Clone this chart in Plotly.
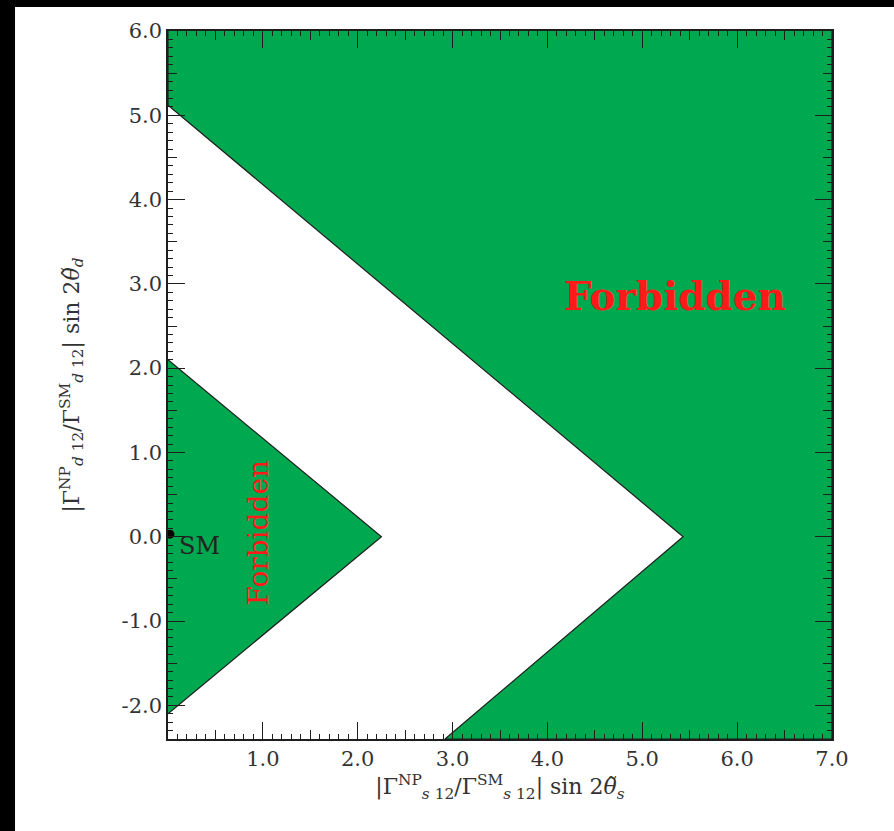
import plotly.graph_objects as go

# ---- data ----
x_range = [0.0, 7.0]
y_range = [-2.4, 6.0]

# outer forbidden region (right of the outer chevron)
outer_x = [0.0, 0.0, 5.43, 2.92, 7.0, 7.0]
outer_y = [6.0, 5.12, 0.0, -2.4, -2.4, 6.0]

# inner forbidden triangle
inner_x = [0.0, 2.25, 0.0]
inner_y = [2.10, 0.0, -2.10]

# Standard Model point
sm_x = [0.02]
sm_y = [0.03]

x_major = [1.0, 2.0, 3.0, 4.0, 5.0, 6.0, 7.0]
x_major_text = ["1.0", "2.0", "3.0", "4.0", "5.0", "6.0", "7.0"]
y_major = [-2.0, -1.0, 0.0, 1.0, 2.0, 3.0, 4.0, 5.0, 6.0]
y_major_text = ["-2.0", "-1.0", "0.0", "1.0", "2.0", "3.0", "4.0", "5.0", "6.0"]
x_half = [0.5, 1.5, 2.5, 3.5, 4.5, 5.5, 6.5]
y_half = [-1.5, -0.5, 0.5, 1.5, 2.5, 3.5, 4.5, 5.5]

GREEN = "#00A850"
EDGE = "#1e1e1e"
TXT = "#333333"
FONT = "DejaVu Serif"

fig = go.Figure()

fig.add_trace(go.Scatter(x=outer_x, y=outer_y, fill="toself", fillcolor=GREEN,
                         mode="lines", line=dict(color=EDGE, width=1.2),
                         hoverinfo="skip", showlegend=False))
fig.add_trace(go.Scatter(x=inner_x, y=inner_y, fill="toself", fillcolor=GREEN,
                         mode="lines", line=dict(color=EDGE, width=1.2),
                         hoverinfo="skip", showlegend=False))
fig.add_trace(go.Scatter(x=sm_x, y=sm_y, mode="markers",
                         marker=dict(color="black", size=9),
                         cliponaxis=True, hoverinfo="skip", showlegend=False))
# carrier trace for the half-unit tick axes
fig.add_trace(go.Scatter(x=[None], y=[None], xaxis="x2", yaxis="y2",
                         mode="markers", showlegend=False, hoverinfo="skip"))

axis_common = dict(showgrid=False, zeroline=False, showline=True,
                   linecolor=EDGE, linewidth=1.5, mirror="ticks",
                   ticks="inside", tickcolor=EDGE, tickwidth=1.4, ticklen=17,
                   layer="above traces",
                   tickfont=dict(family=FONT, size=21, color=TXT))

fig.update_layout(
    width=894, height=831,
    margin=dict(l=168, r=62, t=31, b=92),
    paper_bgcolor="white", plot_bgcolor="white",
    xaxis=dict(range=x_range, tickmode="array", tickvals=x_major,
               ticktext=x_major_text,
               minor=dict(dtick=0.1, tick0=0, ticks="inside", ticklen=5,
                          tickcolor=EDGE, tickwidth=1.1),
               title=dict(text="|Γ<sup>NP</sup><sub><i>s</i> 12</sub>/Γ<sup>SM</sup><sub><i>s</i> 12</sub>| sin 2<i>θ̃</i><sub><i>s</i></sub>",
                          font=dict(family=FONT, size=22, color=TXT), standoff=2),
               **axis_common),
    yaxis=dict(range=y_range, tickmode="array", tickvals=y_major,
               ticktext=y_major_text,
               minor=dict(dtick=0.1, tick0=0, ticks="inside", ticklen=5,
                          tickcolor=EDGE, tickwidth=1.1),
               title=dict(text="|Γ<sup>NP</sup><sub><i>d</i> 12</sub>/Γ<sup>SM</sup><sub><i>d</i> 12</sub>| sin 2<i>θ̃</i><sub><i>d</i></sub>",
                          font=dict(family=FONT, size=22, color=TXT), standoff=36),
               **axis_common),
    xaxis2=dict(overlaying="x", anchor="y", range=x_range, tickmode="array",
                tickvals=x_half, showticklabels=False, showgrid=False,
                zeroline=False, showline=False, ticks="inside", ticklen=9,
                tickcolor=EDGE, tickwidth=1.3, mirror="ticks", side="bottom",
                layer="above traces"),
    yaxis2=dict(overlaying="y", anchor="x", range=y_range, tickmode="array",
                tickvals=y_half, showticklabels=False, showgrid=False,
                zeroline=False, showline=False, ticks="inside", ticklen=9,
                tickcolor=EDGE, tickwidth=1.3, mirror="ticks", side="left",
                layer="above traces"),
)

fig.add_annotation(x=5.35, y=2.86, text="<b>Forbidden</b>", showarrow=False,
                   font=dict(family=FONT, size=39, color="#ff1a1a"))
fig.add_annotation(x=0.95, y=0.04, text="Forbidden", showarrow=False,
                   textangle=-90,
                   font=dict(family=FONT, size=28, color="#ff1a1a"))
fig.add_annotation(x=0.337, y=-0.11, text="SM", showarrow=False,
                   font=dict(family=FONT, size=24, color="#222222"))

# black framing strips of the original image
fig.add_shape(type="rect", xref="paper", yref="paper",
              x0=-0.26, x1=-0.2304, y0=-0.14, y1=1.05,
              fillcolor="black", line=dict(width=0), layer="above")
fig.add_shape(type="rect", xref="paper", yref="paper",
              x0=-0.26, x1=1.10, y0=1.0339, y1=1.05,
              fillcolor="black", line=dict(width=0), layer="above")

fig.write_html("out.html",
               config={"displayModeBar": False, "responsive": False},
               post_script=("document.documentElement.style.background='white';"
                            "document.body.style.margin='0';"
                            "document.body.style.overflow='hidden';"))
